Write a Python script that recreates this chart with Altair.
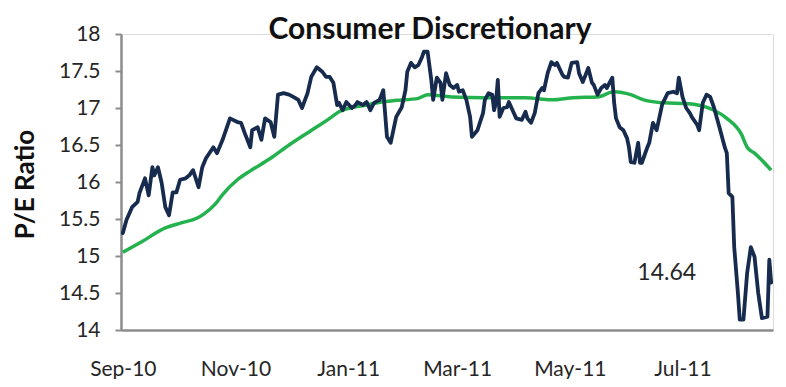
import altair as alt
import pandas as pd

# ---------------- data ----------------
start_date = "2010-09-01"

# daily P/E (navy line): day offsets from start_date and values
pe_days = [
    0, 2, 5, 8, 9, 12, 14, 16, 17, 19,
    21, 23, 25, 27, 29, 31, 34, 36, 38, 41,
    43, 45, 49, 51, 54, 58, 62, 64, 66, 69,
    70, 73, 75, 77, 80, 82, 84, 87, 90, 93,
    95, 97, 100, 102, 105, 108, 110, 112, 114, 116,
    117, 119, 121, 124, 126, 127, 130, 132, 134, 136,
    139, 141, 143, 145, 148, 151, 153, 154, 156, 158,
    160, 162, 163, 165, 167, 168, 170, 172, 173, 175,
    177, 179, 181, 182, 184, 186, 188, 189, 192, 195,
    196, 198, 200, 201, 202, 203, 204, 206, 208, 209,
    211, 213, 216, 218, 219, 221, 223, 225, 227, 228,
    230, 232, 234, 235, 238, 239, 241, 243, 246, 247,
    249, 252, 254, 255, 257, 259, 261, 262, 265, 266,
    267, 269, 271, 273, 274, 275, 277, 279, 280, 281,
    284, 285, 287, 289, 291, 292, 295, 298, 300, 301,
    303, 305, 307, 308, 311, 312, 314, 316, 318, 320,
    323, 326, 327, 328, 330, 331, 333, 334, 336, 338,
    340, 342, 344, 346, 349, 350, 351,
]
pe_values = [
    15.31, 15.49, 15.66, 15.73, 15.85, 16.05, 15.82, 16.20, 16.09, 16.20,
    15.99, 15.66, 15.55, 15.86, 15.86, 16.03, 16.05, 16.09, 16.16, 15.93,
    16.20, 16.32, 16.47, 16.39, 16.57, 16.86, 16.81, 16.80, 16.66, 16.47,
    16.70, 16.74, 16.57, 16.86, 16.81, 16.61, 17.18, 17.20, 17.18, 17.14,
    17.11, 17.00, 17.20, 17.42, 17.55, 17.49, 17.42, 17.42, 17.34, 17.04,
    17.07, 16.97, 17.08, 17.00, 17.04, 17.08, 17.04, 17.08, 16.97, 17.07,
    17.11, 17.24, 16.61, 16.53, 16.88, 17.01, 17.24, 17.49, 17.61, 17.55,
    17.58, 17.69, 17.76, 17.76, 17.38, 17.11, 17.41, 17.34, 17.11, 17.47,
    17.31, 17.27, 17.31, 17.22, 17.24, 17.11, 16.88, 16.61, 16.70, 16.93,
    17.11, 17.20, 17.18, 16.97, 17.07, 17.38, 16.88, 17.00, 17.01, 17.08,
    16.97, 16.86, 16.84, 16.95, 16.86, 16.80, 16.93, 17.20, 17.27, 17.24,
    17.47, 17.62, 17.58, 17.61, 17.45, 17.42, 17.41, 17.61, 17.62, 17.47,
    17.35, 17.54, 17.34, 17.31, 17.18, 17.27, 17.31, 17.27, 17.41, 17.07,
    16.86, 16.74, 16.70, 16.59, 16.47, 16.27, 16.26, 16.53, 16.26, 16.26,
    16.47, 16.53, 16.80, 16.70, 16.93, 17.05, 17.20, 17.22, 17.20, 17.41,
    17.15, 17.00, 16.93, 16.88, 16.77, 16.70, 17.07, 17.18, 17.15, 17.01,
    16.74, 16.46, 16.39, 15.85, 15.80, 15.12, 14.50, 14.14, 14.14, 14.77,
    15.12, 14.99, 14.50, 14.16, 14.18, 14.95, 14.64,
]

# moving average (green line)
ma_days = [0, 10, 23, 32, 40, 44, 50, 54, 62, 69,
           80, 90, 101, 112, 117, 123, 132, 140, 147, 160,
           165, 178, 196, 218, 232, 244, 257, 266, 275, 282,
           293, 305, 320, 327, 335, 338, 342, 351]
ma_values = [15.05, 15.19, 15.38, 15.45, 15.51, 15.57, 15.70, 15.83, 16.03, 16.15,
             16.32, 16.50, 16.68, 16.86, 16.95, 17.00, 17.04, 17.08, 17.10, 17.13,
             17.18, 17.15, 17.14, 17.14, 17.11, 17.14, 17.15, 17.22, 17.18, 17.11,
             17.07, 17.06, 16.97, 16.86, 16.64, 16.47, 16.39, 16.16]

tick_months = [(2010, 9), (2010, 11), (2011, 1), (2011, 3), (2011, 5), (2011, 7)]
y_ticks = [14, 14.5, 15, 15.5, 16, 16.5, 17, 17.5, 18]

title_text = "Consumer Discretionary"
y_title = "P/E Ratio"

# ---------------- build tables ----------------
base = pd.Timestamp(start_date)
pe = pd.DataFrame({
    "date": [(base + pd.Timedelta(days=d)).strftime("%Y-%m-%d") for d in pe_days],
    "value": pe_values,
})
ma = pd.DataFrame({
    "date": [(base + pd.Timedelta(days=d)).strftime("%Y-%m-%d") for d in ma_days],
    "value": ma_values,
})
last = pe.tail(1).copy()
last["label"] = [f"{v:.2f}" for v in last["value"]]

FONT = "Lato"
AXIS_GREY = "#8c8c8c"
TEXT = "#262626"

x_enc = alt.X(
    "date:T",
    scale=alt.Scale(
        type="utc",
        domain=[alt.DateTime(year=2010, month=8, date=31, utc=True),
                alt.DateTime(year=2011, month=8, date=19, utc=True)],
    ),
    axis=alt.Axis(
        values=[alt.DateTime(year=y, month=m, date=1, utc=True) for y, m in tick_months],
        labelExpr="utcFormat(datum.value, '%b-%y')",
        title=None, ticks=False, grid=False,
        domainColor=AXIS_GREY, domainWidth=2.5,
        labelFont=FONT, labelFontSize=21, labelColor=TEXT, labelPadding=28,
    ),
)
y_enc = alt.Y(
    "value:Q",
    scale=alt.Scale(domain=[14, 18], nice=False, zero=False),
    axis=alt.Axis(
        values=y_ticks, format="~g", grid=False,
        domainColor=AXIS_GREY, domainWidth=2.5,
        tickColor=AXIS_GREY, tickWidth=2, tickSize=6,
        labelFont=FONT, labelFontSize=21, labelColor=TEXT, labelPadding=15,
        title=y_title, titleFont=FONT, titleFontSize=26, titleFontWeight="bold",
        titleColor="#111111", titleX=-96, titleY=150, titleBaseline="middle",
        titleAngle=270, titleAlign="center",
    ),
)

ma_line = alt.Chart(ma).mark_line(
    color="#23b24d", strokeWidth=3.5, interpolate="monotone", strokeJoin="round"
).encode(x=x_enc, y=y_enc)

pe_line = alt.Chart(pe).mark_line(
    color="#162b4d", strokeWidth=3.8, strokeJoin="round", strokeCap="round"
).encode(x=x_enc, y=y_enc)

label = alt.Chart(last).mark_text(
    font=FONT, fontSize=23, color=TEXT, align="right", baseline="middle", dx=-75, dy=-10
).encode(x=x_enc, y=y_enc, text="label:N")

chart = alt.layer(ma_line, pe_line, label).properties(
    width=652,
    height=296,
    autosize="none",
    padding={"left": 113, "top": 26, "right": 5, "bottom": 49},
    title=alt.TitleParams(
        title_text, font=FONT, fontSize=30, fontWeight="bold", color="#111111",
        anchor="middle", dx=-17, dy=22, offset=0,
    ),
).configure_view(stroke=None).configure(background="white")

chart.save("out.html", embed_options={"renderer": "svg", "actions": False})
